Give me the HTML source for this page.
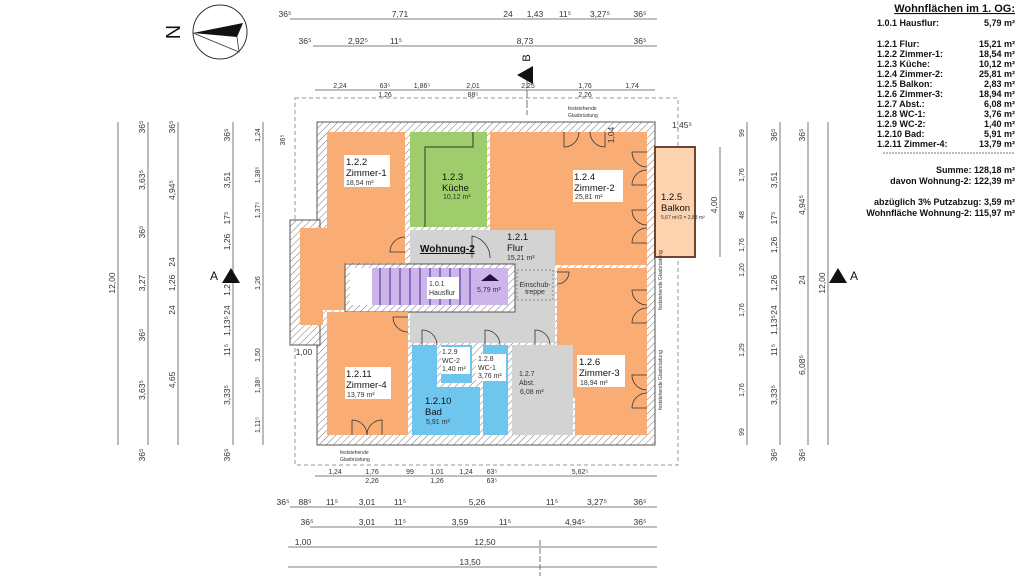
<!DOCTYPE html>
<html><head><meta charset="utf-8"><style>
html,body{margin:0;padding:0;background:#fff;}
svg{display:block;font-family:"Liberation Sans",Arial,sans-serif;}
.d{font-size:8.5px;fill:#333;}
.s{font-size:7px;fill:#333;}
.l{font-size:9.5px;fill:#111;}
.t{font-size:9px;font-weight:bold;fill:#111;}
</style></head><body>
<svg width="1024" height="576" viewBox="0 0 1024 576" xmlns="http://www.w3.org/2000/svg">
<defs>
<pattern id="h" width="5" height="5" patternUnits="userSpaceOnUse" patternTransform="rotate(45)">
<rect width="5" height="5" fill="#fff"/><line x1="0" y1="0" x2="0" y2="5" stroke="#777" stroke-width="1"/>
</pattern>
</defs>

<!-- compass -->
<text x="172" y="40" font-size="20" fill="#111" transform="rotate(-90 172 32)" text-anchor="middle">N</text>
<circle cx="220" cy="32" r="27" fill="#fff" stroke="#333" stroke-width="1"/>
<polygon points="193,33 243,23 237,37" fill="#111"/>
<polyline points="193,33 239,52 237,37" fill="none" stroke="#333" stroke-width="0.8"/>

<!-- dashed outline -->
<rect x="295" y="98" width="383" height="367" fill="none" stroke="#999" stroke-dasharray="4,3" stroke-width="1"/>

<!-- building hatch -->
<rect x="317" y="122" width="338" height="323" fill="url(#h)" stroke="#555"/>
<rect x="290" y="220" width="30" height="125" fill="url(#h)" stroke="#555"/>

<!-- rooms -->
<polygon points="327,132 405,132 405,263 345,263 345,310 323,310 323,325 300,325 300,228 327,228" fill="#f9ad74"/>
<rect x="410" y="132" width="77" height="95" fill="#9fcd6c"/>
<polyline points="473,132 473,147 425,147 425,227" fill="none" stroke="#333" stroke-width="1"/>
<rect x="490" y="132" width="157" height="133" fill="#f9ad74"/>
<rect x="655" y="147" width="40" height="110" fill="#fcd3ae" stroke="#6b4530" stroke-width="2"/>
<rect x="410" y="230" width="145" height="113" fill="#d3d3d3"/>
<rect x="345" y="264" width="170" height="48" fill="url(#h)" stroke="#555"/>
<rect x="350" y="268" width="22" height="37" fill="#fff"/>
<rect x="372" y="268" width="136" height="37" fill="#cdb5ec"/>
<g stroke="#3a2a8a" stroke-width="1">
<line x1="380" y1="268" x2="380" y2="305"/><line x1="390" y1="268" x2="390" y2="305"/><line x1="400" y1="268" x2="400" y2="305"/><line x1="410" y1="268" x2="410" y2="305"/><line x1="420" y1="268" x2="420" y2="305"/><line x1="430" y1="268" x2="430" y2="305"/><line x1="440" y1="268" x2="440" y2="305"/><line x1="450" y1="268" x2="450" y2="305"/><line x1="460" y1="268" x2="460" y2="305"/><line x1="470" y1="268" x2="470" y2="305"/>
</g>
<polygon points="481,281 499,281 490,274" fill="#221040"/>
<rect x="517" y="270" width="36" height="30" fill="none" stroke="#888" stroke-dasharray="2,2"/>
<text x="535" y="287" class="s" text-anchor="middle" font-size="5">Einschub-</text>
<text x="535" y="294" class="s" text-anchor="middle" font-size="5">treppe</text>
<polygon points="557,268 647,268 647,435 575,435 575,398 557,398" fill="#f9ad74"/>
<rect x="327" y="312" width="81" height="123" fill="#f9ad74"/>
<rect x="412" y="345" width="68" height="90" fill="#6ec6ef"/>
<rect x="437" y="345" width="4" height="40" fill="url(#h)"/>
<rect x="437" y="383" width="43" height="4" fill="url(#h)"/>
<rect x="472" y="345" width="8" height="40" fill="url(#h)"/>
<rect x="483" y="345" width="25" height="90" fill="#6ec6ef"/>
<rect x="512" y="345" width="61" height="90" fill="#d3d3d3"/>

<!-- doors -->
<g fill="none" stroke="#333" stroke-width="0.8">
<path d="M564,132 v15 a15,15 0 0 0 15,-15"/><path d="M605,132 v15 a15,15 0 0 1 -15,-15"/>
<path d="M647,152 h-15 a15,15 0 0 0 15,15"/><path d="M647,185 h-15 a15,15 0 0 1 15,-15"/>
<path d="M647,210 h-15 a15,15 0 0 0 15,15"/><path d="M647,243 h-15 a15,15 0 0 1 15,-15"/>
<path d="M647,290 h-15 a15,15 0 0 0 15,15"/><path d="M647,323 h-15 a15,15 0 0 1 15,-15"/>
<path d="M647,375 h-15 a15,15 0 0 0 15,15"/><path d="M647,408 h-15 a15,15 0 0 1 15,-15"/>
<path d="M352,435 v-15 a15,15 0 0 1 15,15"/><path d="M382,435 v-15 a15,15 0 0 0 -15,15"/>
<path d="M405,252 h-15 a15,15 0 0 1 15,-15"/>
<path d="M472,258 v-22 a22,22 0 0 1 18,22"/>
<path d="M408,317 h-15 a15,15 0 0 0 15,15"/>
<path d="M422,345 v-15 a15,15 0 0 1 15,15"/>
<path d="M485,345 v-15 a15,15 0 0 1 15,15"/>
<path d="M535,345 v-15 a15,15 0 0 1 15,15"/>
<path d="M441,365 h15 a15,15 0 0 0 -15,-15" />
<path d="M557,272 h12 a12,12 0 0 1 -12,12"/>
</g>

<!-- labels -->
<g>
<rect x="344" y="155" width="46" height="32" fill="#fff"/>
<text x="346" y="165" class="l">1.2.2</text><text x="346" y="176" class="l">Zimmer-1</text><text x="346" y="185" class="s">18,54 m²</text>
<rect x="441" y="170" width="34" height="30" fill="#9fcd6c"/>
<text x="442" y="180" class="l">1.2.3</text><text x="442" y="191" class="l">Küche</text><text x="443" y="199" class="s">10,12 m²</text>
<rect x="573" y="170" width="50" height="32" fill="#fff"/>
<text x="574" y="180" class="l">1.2.4</text><text x="574" y="191" class="l">Zimmer-2</text><text x="575" y="199" class="s">25,81 m²</text>
<text x="661" y="200" class="l">1.2.5</text><text x="661" y="211" class="l">Balkon</text><text x="661" y="219" font-size="5" fill="#333">5,67 m²/2 = 2,83 m²</text>
<text x="420" y="252" font-size="10" font-weight="bold" fill="#111" text-decoration="underline">Wohnung-2</text>
<text x="507" y="240" class="l">1.2.1</text><text x="507" y="251" class="l">Flur</text><text x="507" y="260" class="s">15,21 m²</text>
<rect x="427" y="277" width="32" height="22" fill="#fff"/>
<text x="429" y="286" class="s" font-size="8">1.0.1</text><text x="429" y="295" class="s" font-size="8">Hausflur</text>
<text x="477" y="292" class="s" font-size="8">5,79 m²</text>
<rect x="577" y="355" width="48" height="32" fill="#fff"/>
<text x="579" y="365" class="l">1.2.6</text><text x="579" y="376" class="l">Zimmer-3</text><text x="580" y="385" class="s">18,94 m²</text>
<rect x="345" y="367" width="46" height="32" fill="#fff"/>
<text x="346" y="377" class="l">1.2.11</text><text x="346" y="388" class="l">Zimmer-4</text><text x="347" y="397" class="s">13,79 m²</text>
<text x="425" y="404" class="l">1.2.10</text><text x="425" y="415" class="l">Bad</text><text x="426" y="424" class="s">5,91 m²</text>
<rect x="441" y="347" width="29" height="27" fill="#fff"/>
<text x="442" y="354" class="s" font-size="7.5">1.2.9</text><text x="442" y="363" class="s" font-size="7.5">WC-2</text><text x="442" y="371" class="s">1,40 m²</text>
<rect x="476" y="354" width="30" height="27" fill="#fff"/>
<text x="478" y="361" class="s" font-size="7.5">1.2.8</text><text x="478" y="370" class="s" font-size="7.5">WC-1</text><text x="478" y="378" class="s">3,76 m²</text>
<text x="519" y="376" class="s" font-size="7.5">1.2.7</text><text x="519" y="385" class="s" font-size="7.5">Abst.</text><text x="520" y="394" class="s">6,08 m²</text>
<text x="568" y="110" font-size="5" fill="#333">feststehende</text><text x="568" y="117" font-size="5" fill="#333">Glasbrüstung</text>
<text x="340" y="454" font-size="5" fill="#333">feststehende</text><text x="340" y="461" font-size="5" fill="#333">Glasbrüstung</text>
<text x="662" y="310" font-size="5" fill="#333" transform="rotate(-90 662 310)">feststehende Glasbrüstung</text>
<text x="662" y="410" font-size="5" fill="#333" transform="rotate(-90 662 410)">feststehende Glasbrüstung</text>
</g>

<!-- top dimensions -->
<g stroke="#555" stroke-width="0.8">
<line x1="290" y1="19" x2="657" y2="19"/><line x1="313" y1="46" x2="657" y2="46"/><line x1="315" y1="90" x2="655" y2="90"/>
<line x1="290" y1="507" x2="657" y2="507"/><line x1="310" y1="527" x2="657" y2="527"/><line x1="288" y1="547" x2="657" y2="547"/><line x1="288" y1="567" x2="657" y2="567"/><line x1="315" y1="476" x2="657" y2="476"/>
<line x1="118" y1="122" x2="118" y2="445"/><line x1="148" y1="122" x2="148" y2="445"/><line x1="178" y1="122" x2="178" y2="445"/><line x1="233" y1="122" x2="233" y2="445"/><line x1="263" y1="122" x2="263" y2="445"/>
<line x1="747" y1="122" x2="747" y2="445"/><line x1="780" y1="122" x2="780" y2="445"/><line x1="808" y1="122" x2="808" y2="445"/><line x1="828" y1="122" x2="828" y2="445"/>
<line x1="720" y1="147" x2="720" y2="257"/>
<line x1="540" y1="540" x2="540" y2="576" stroke-dasharray="6,2"/>
<line x1="527" y1="80" x2="527" y2="115" stroke-dasharray="8,2"/>
</g>
<g class="d" text-anchor="middle">
<text x="285" y="17">36⁵</text><text x="400" y="17">7,71</text><text x="508" y="17">24</text><text x="535" y="17">1,43</text><text x="565" y="17">11⁵</text><text x="600" y="17">3,27⁵</text><text x="640" y="17">36⁵</text>
<text x="305" y="44">36⁵</text><text x="358" y="44">2,92⁵</text><text x="396" y="44">11⁵</text><text x="525" y="44">8,73</text><text x="640" y="44">36⁵</text>
<g class="s"><text x="340" y="88">2,24</text><text x="385" y="88">63⁵</text><text x="385" y="97">1,26</text><text x="422" y="88">1,86⁵</text><text x="473" y="88">2,01</text><text x="473" y="97">88⁵</text><text x="528" y="88">2,25</text><text x="585" y="88">1,76</text><text x="585" y="97">2,26</text><text x="632" y="88">1,74</text>
<text x="335" y="474">1,24</text><text x="372" y="474">1,76</text><text x="372" y="483">2,26</text><text x="410" y="474">99</text><text x="437" y="474">1,01</text><text x="437" y="483">1,26</text><text x="466" y="474">1,24</text><text x="492" y="474">63⁵</text><text x="492" y="483">63⁵</text><text x="580" y="474">5,62⁵</text></g>
<text x="283" y="505">36⁵</text><text x="305" y="505">88⁵</text><text x="332" y="505">11⁵</text><text x="367" y="505">3,01</text><text x="400" y="505">11⁵</text><text x="477" y="505">5,26</text><text x="552" y="505">11⁵</text><text x="597" y="505">3,27⁵</text><text x="640" y="505">36⁵</text>
<text x="307" y="525">36⁵</text><text x="367" y="525">3,01</text><text x="400" y="525">11⁵</text><text x="460" y="525">3,59</text><text x="505" y="525">11⁵</text><text x="575" y="525">4,94⁵</text><text x="640" y="525">36⁵</text>
<text x="303" y="545">1,00</text><text x="485" y="545">12,50</text>
<text x="470" y="565">13,50</text>
<text x="304" y="355">1,00</text>
<text x="682" y="128">1,45⁵</text>
</g>
<!-- vertical dims -->
<g class="d" text-anchor="middle">
<text transform="translate(115,283) rotate(-90)">12,00</text>
<text transform="translate(145,127) rotate(-90)">36⁵</text><text transform="translate(145,180) rotate(-90)">3,63⁵</text><text transform="translate(145,232) rotate(-90)">36⁵</text><text transform="translate(145,283) rotate(-90)">3,27</text><text transform="translate(145,335) rotate(-90)">36⁵</text><text transform="translate(145,390) rotate(-90)">3,63⁵</text><text transform="translate(145,455) rotate(-90)">36⁵</text>
<text transform="translate(175,127) rotate(-90)">36⁵</text><text transform="translate(175,190) rotate(-90)">4,94⁵</text><text transform="translate(175,262) rotate(-90)">24</text><text transform="translate(175,283) rotate(-90)">1,26</text><text transform="translate(175,310) rotate(-90)">24</text><text transform="translate(175,380) rotate(-90)">4,65</text>
<text transform="translate(230,135) rotate(-90)">36⁵</text><text transform="translate(230,180) rotate(-90)">3,51</text><text transform="translate(230,218) rotate(-90)">17⁵</text><text transform="translate(230,242) rotate(-90)">1,26</text><text transform="translate(230,290) rotate(-90)">1,2</text><text transform="translate(230,310) rotate(-90)">24</text><text transform="translate(230,326) rotate(-90)">1,13⁵</text><text transform="translate(230,350) rotate(-90)">11⁵</text><text transform="translate(230,395) rotate(-90)">3,33⁵</text><text transform="translate(230,455) rotate(-90)">36⁵</text>
<g class="s"><text transform="translate(260,135) rotate(-90)">1,24</text><text transform="translate(260,175) rotate(-90)">1,38⁵</text><text transform="translate(260,210) rotate(-90)">1,37⁵</text><text transform="translate(260,283) rotate(-90)">1,26</text><text transform="translate(260,355) rotate(-90)">1,50</text><text transform="translate(260,385) rotate(-90)">1,38⁵</text><text transform="translate(260,425) rotate(-90)">1,11⁵</text><text transform="translate(285,140) rotate(-90)">36⁵</text></g>
<g class="s"><text transform="translate(744,133) rotate(-90)">99</text><text transform="translate(744,175) rotate(-90)">1,76</text><text transform="translate(744,215) rotate(-90)">48</text><text transform="translate(744,245) rotate(-90)">1,76</text><text transform="translate(744,270) rotate(-90)">1,20</text><text transform="translate(744,310) rotate(-90)">1,76</text><text transform="translate(744,350) rotate(-90)">1,29</text><text transform="translate(744,390) rotate(-90)">1,76</text><text transform="translate(744,432) rotate(-90)">99</text></g>
<text transform="translate(777,135) rotate(-90)">36⁵</text><text transform="translate(777,180) rotate(-90)">3,51</text><text transform="translate(777,218) rotate(-90)">17⁵</text><text transform="translate(777,245) rotate(-90)">1,26</text><text transform="translate(777,283) rotate(-90)">1,26</text><text transform="translate(777,310) rotate(-90)">24</text><text transform="translate(777,325) rotate(-90)">1,13⁵</text><text transform="translate(777,350) rotate(-90)">11⁵</text><text transform="translate(777,395) rotate(-90)">3,33⁵</text><text transform="translate(777,455) rotate(-90)">36⁵</text>
<text transform="translate(805,135) rotate(-90)">36⁵</text><text transform="translate(805,205) rotate(-90)">4,94⁵</text><text transform="translate(805,280) rotate(-90)">24</text><text transform="translate(805,365) rotate(-90)">6,08⁵</text><text transform="translate(805,455) rotate(-90)">36⁵</text>
<text transform="translate(825,283) rotate(-90)">12,00</text>
<text transform="translate(717,205) rotate(-90)">4,00</text>
<text transform="translate(614,135) rotate(-90)">1,04</text>
</g>
<!-- section markers -->
<polygon points="517,75 533,66 533,84" fill="#111"/>
<text transform="translate(530,58) rotate(-90)" font-size="11" fill="#111" text-anchor="middle">B</text>
<polygon points="222,283 231,268 240,283" fill="#111"/>
<text x="210" y="280" font-size="12" fill="#111">A</text>
<polygon points="829,283 838,268 847,283" fill="#111"/>
<text x="850" y="280" font-size="12" fill="#111">A</text>

<!-- table -->
<g class="t">
<text x="1015" y="12" text-anchor="end" font-size="11" text-decoration="underline">Wohnflächen im 1. OG:</text>
<text x="877" y="26">1.0.1 Hausflur:</text><text x="1015" y="26" text-anchor="end">5,79 m²</text>
<text x="877" y="47">1.2.1 Flur:</text><text x="1015" y="47" text-anchor="end">15,21 m²</text>
<text x="877" y="57">1.2.2 Zimmer-1:</text><text x="1015" y="57" text-anchor="end">18,54 m²</text>
<text x="877" y="67">1.2.3 Küche:</text><text x="1015" y="67" text-anchor="end">10,12 m²</text>
<text x="877" y="77">1.2.4 Zimmer-2:</text><text x="1015" y="77" text-anchor="end">25,81 m²</text>
<text x="877" y="87">1.2.5 Balkon:</text><text x="1015" y="87" text-anchor="end">2,83 m²</text>
<text x="877" y="97">1.2.6 Zimmer-3:</text><text x="1015" y="97" text-anchor="end">18,94 m²</text>
<text x="877" y="107">1.2.7 Abst.:</text><text x="1015" y="107" text-anchor="end">6,08 m²</text>
<text x="877" y="117">1.2.8 WC-1:</text><text x="1015" y="117" text-anchor="end">3,76 m²</text>
<text x="877" y="127">1.2.9 WC-2:</text><text x="1015" y="127" text-anchor="end">1,40 m²</text>
<text x="877" y="137">1.2.10 Bad:</text><text x="1015" y="137" text-anchor="end">5,91 m²</text>
<text x="877" y="147">1.2.11 Zimmer-4:</text><text x="1015" y="147" text-anchor="end">13,79 m²</text>
<line x1="883" y1="153" x2="1015" y2="153" stroke="#777" stroke-dasharray="2,1" stroke-width="1"/>
<text x="1015" y="173" text-anchor="end">Summe:  128,18 m²</text>
<text x="1015" y="184" text-anchor="end">davon Wohnung-2: 122,39 m²</text>
<text x="1015" y="205" text-anchor="end">abzüglich 3% Putzabzug: 3,59 m²</text>
<text x="1015" y="216" text-anchor="end">Wohnfläche Wohnung-2: 115,97 m²</text>
</g>
</svg>
</body></html>
